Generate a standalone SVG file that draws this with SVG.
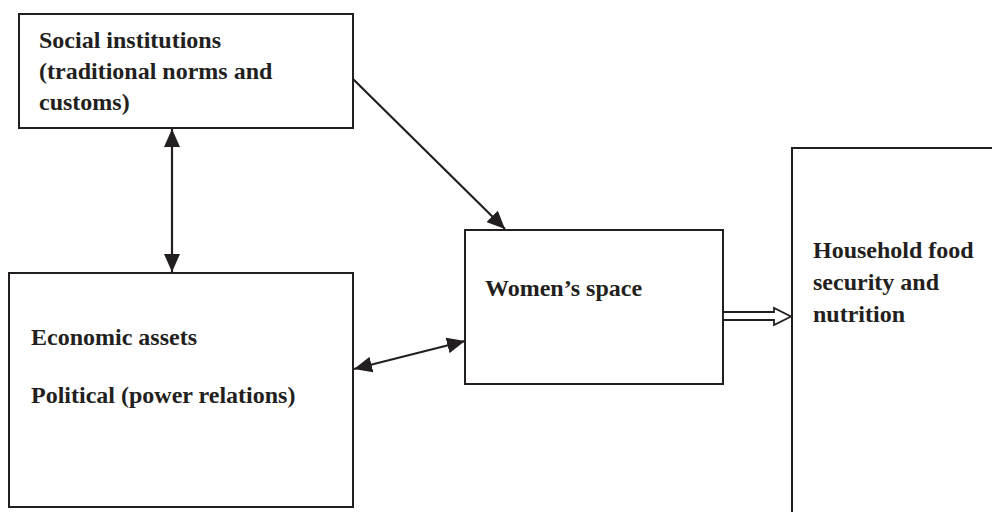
<svg xmlns="http://www.w3.org/2000/svg" width="992" height="512" viewBox="0 0 992 512">
<style>
.box{fill:#fff;stroke:#231f20;stroke-width:2}
.t{font-family:"Liberation Serif","Times New Roman",serif;font-weight:bold;font-size:24px;fill:#231f20}
.c{stroke:#231f20;stroke-width:2.2;fill:none}
</style>
<defs>
<marker id="ah" viewBox="0 0 18 16" refX="18" refY="8" markerWidth="18" markerHeight="16" markerUnits="userSpaceOnUse" orient="auto-start-reverse">
<path d="M0,0 L18,8 L0,16 Z" fill="#231f20"/>
</marker>
</defs>
<rect width="992" height="512" fill="#fff"/>
<g id="household">
<rect class="box" x="792" y="148" width="230" height="400"/>
<text class="t" x="813" y="258">Household food</text>
<text class="t" x="813" y="290">security and</text>
<text class="t" x="813" y="322">nutrition</text>
</g>
<g id="social">
<rect class="box" x="19" y="14" width="334" height="114"/>
<text class="t" x="39" y="48">Social institutions</text>
<text class="t" x="39" y="79">(traditional norms and</text>
<text class="t" x="39" y="110">customs)</text>
</g>
<g id="economic">
<rect class="box" x="9" y="273" width="344" height="234"/>
<text class="t" x="31" y="345">Economic assets</text>
<text class="t" x="31" y="403">Political (power relations)</text>
</g>
<g id="women">
<rect class="box" x="465" y="230" width="258" height="154"/>
<text class="t" x="485" y="296">Women’s space</text>
</g>
<g id="connectors">
<line class="c" x1="172" y1="129" x2="172" y2="272" marker-start="url(#ah)" marker-end="url(#ah)"/>
<line class="c" x1="353" y1="79" x2="505" y2="229" marker-end="url(#ah)"/>
<line class="c" x1="354" y1="369" x2="465" y2="341" marker-start="url(#ah)" marker-end="url(#ah)"/>
<path d="M723,312 L774,312 L774,308 L791,316.5 L774,325 L774,320 L723,320 Z" fill="#fff" stroke="#231f20" stroke-width="1.8" stroke-linejoin="miter"/>
</g>
</svg>
